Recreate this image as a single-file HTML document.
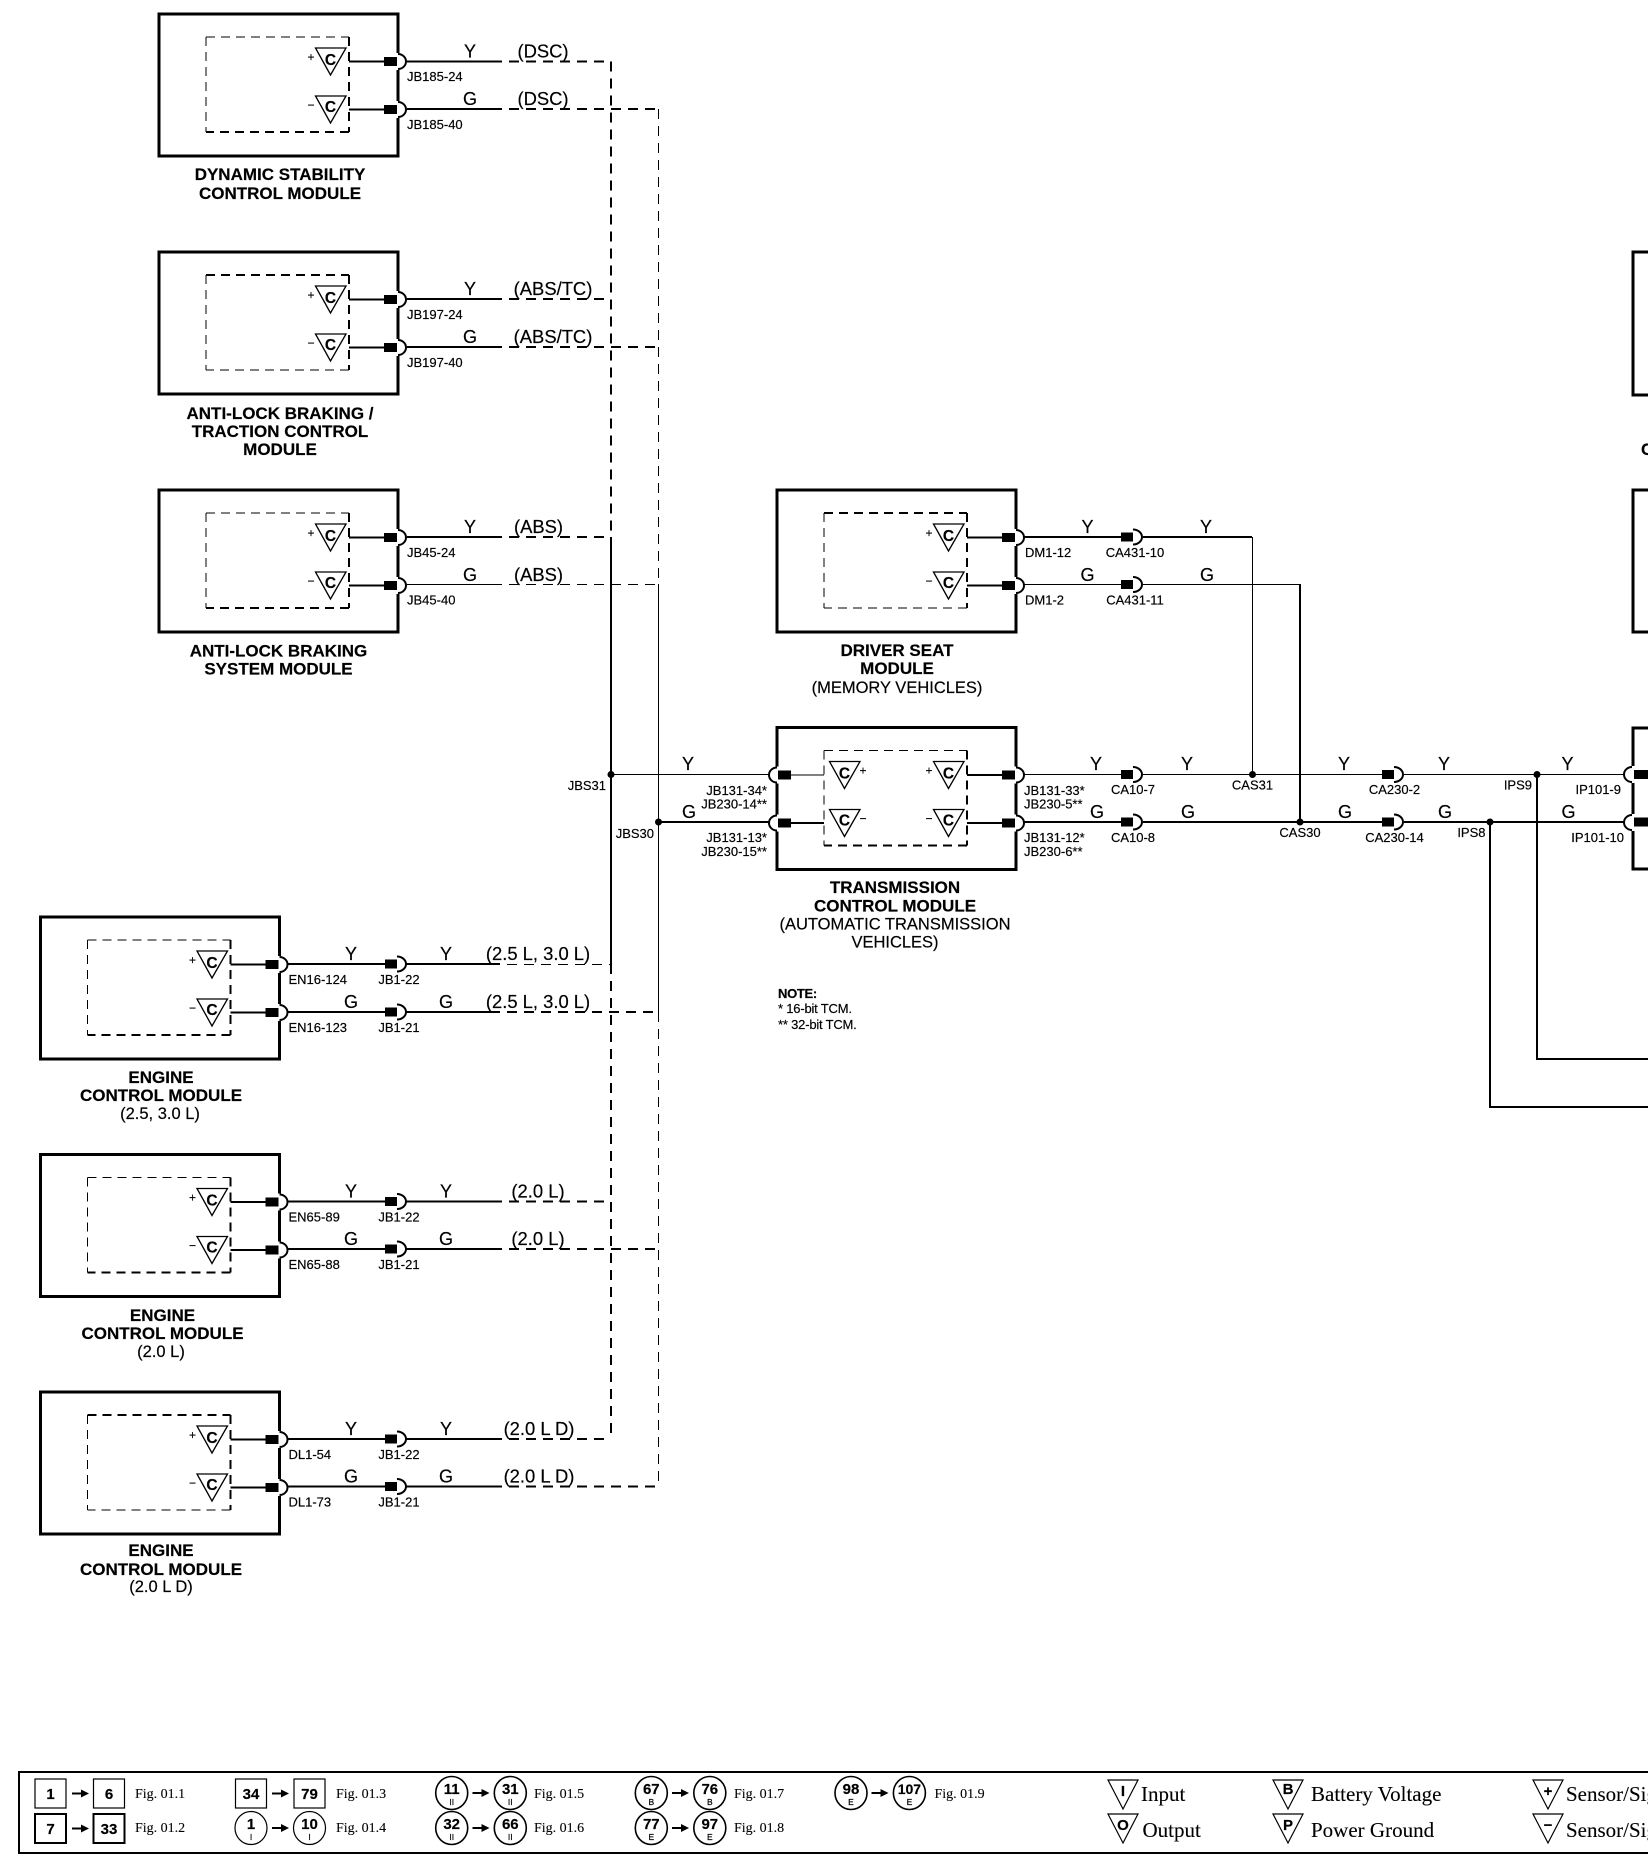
<!DOCTYPE html>
<html><head><meta charset="utf-8"><title>Wiring diagram</title>
<style>
html,body{margin:0;padding:0;background:#fff;width:1648px;height:1874px;overflow:hidden}
svg{display:block}
text{font-family:"Liberation Sans",sans-serif;fill:#000;stroke:#000;stroke-width:.18}
.w{font-size:18px;text-anchor:middle}
.p{font-size:18.4px;text-anchor:middle}
.c{font-size:13px}
.cm{font-size:13px;text-anchor:middle}
.ce{font-size:13px;text-anchor:end}
.t{font-size:17px;font-weight:bold;text-anchor:middle}
.s{font-size:16.5px;text-anchor:middle}
.C{font-size:15.5px;font-weight:bold;text-anchor:middle}
.sg{font-size:12px;text-anchor:middle}
.n{font-size:15px;font-weight:bold;text-anchor:middle}
.l{font-size:8.5px;text-anchor:middle}
.f{font-family:"Liberation Serif",serif;font-size:14px;stroke-width:.1}
.g{font-family:"Liberation Serif",serif;font-size:21px;stroke-width:.1}
.k{font-size:15px;font-weight:bold;text-anchor:middle}
.a{stroke:#000;fill:none;stroke-width:2;shape-rendering:crispEdges}
.b{stroke:#000;fill:none;stroke-width:1;shape-rendering:crispEdges}
.ad{stroke-dasharray:10 7}
.ag{stroke-dasharray:10 7;stroke-dashoffset:10}
.id{stroke-dasharray:9 6}
</style></head><body>
<svg xmlns="http://www.w3.org/2000/svg" width="1648" height="1874" viewBox="0 0 1648 1874">
<defs>
<g id="frame">
<rect x="0" y="0" width="239" height="142" fill="#fff" stroke="#000" stroke-width="3"/>
<rect x="236" y="39" width="6" height="17" fill="#fff"/>
<rect x="236" y="87" width="6" height="17" fill="#fff"/>
<path d="M239 40 A8 7.5 0 0 1 239 55 M239 88 A8 7.5 0 0 1 239 103" fill="#fff" stroke="#000" stroke-width="2"/>
<rect x="225" y="43" width="13" height="9"/>
<rect x="225" y="91" width="13" height="9"/>
<path d="M47 23V118" class="b id"/>
<path d="M190 23V118" class="a id"/>
<path d="M190 47.5H225M190 95.5H225" class="a"/>
<g fill="#fff" stroke="#000" stroke-width="1.3">
<path d="M156.5 34H187L171.5 61Z"/><path d="M156.5 82H187L171.5 109Z"/></g>
</g>
<path id="tn" d="M47 23H190" class="b id"/>
<path id="tk" d="M47 23H190" class="a id"/>
<path id="bn" d="M190 118H47" class="b id"/>
<path id="bk" d="M190 118H47" class="a id"/>
<g id="cn">
<rect x="0" y="-4.5" width="12" height="9"/>
<path d="M12 -7.5A9 7.5 0 0 1 12 7.5" fill="none" stroke="#000" stroke-width="2"/>
</g>
<path id="ar" d="M0 -1H9V-4L17 0L9 4V1H0Z"/>
<path id="tr" d="M0 0H30L15 29Z" fill="#fff" stroke="#000" stroke-width="1.2"/>
</defs>

<!-- bus and wires -->
<path class="a ag" d="M502 61.5H611V537"/>
<path class="a ag" d="M502 109H658"/>
<path class="b ad" d="M658.5 109V584"/>
<path class="a ag" d="M502 299H611"/>
<path class="a ag" d="M502 347H658"/>
<path class="a ag" d="M502 537H611"/>
<path class="b ag" d="M502 584.5H658"/>
<path class="a" d="M611 537V964"/>
<path class="b" d="M658.5 584V1012"/>
<path class="b ag" d="M500 964.5H611"/>
<path class="a ad" d="M611 964V1439"/>
<path class="a ag" d="M502 1439H611"/>
<path class="a ag" d="M500 1012H658"/>
<path class="b ad" d="M658.5 1012V1486"/>
<path class="a ag" d="M502 1201.5H611"/>
<path class="a ag" d="M502 1249H658"/>
<path class="a ag" d="M502 1486.5H658"/>

<path class="a" d="M407 61.5H502M407 109H502M407 299H502M407 347H502M407 537H502"/>
<path class="b" d="M407 584.5H502"/>
<path class="a" d="M287 964H385M406 964H500M287 1012H385M406 1012H500"/>
<path class="a" d="M287 1201.5H385M406 1201.5H502M287 1249H385M406 1249H502"/>
<path class="a" d="M287 1439H385M406 1439H502M287 1486.5H385M406 1486.5H502"/>

<path class="a" d="M1024 537H1121M1143 537H1252"/>
<path class="b" d="M1024 584.5H1121M1143 584.5H1300M1252.5 537V774"/>
<path class="a" d="M1300 584V822"/>
<path class="b" d="M611 774.5H769M1024 774.5H1121M1143 774.5H1382M1404 774.5H1624"/>
<path class="a" d="M658 822H769M1024 822H1121M1143 822H1382M1404 822H1624"/>
<path class="a" d="M1537 774V1059H1648M1490 822V1107H1648"/>
<g><circle cx="611" cy="774.5" r="3.5"/><circle cx="658.5" cy="822" r="3.5"/><circle cx="1252.5" cy="774.5" r="3.5"/><circle cx="1300" cy="822" r="3.5"/><circle cx="1537" cy="774.5" r="3.5"/><circle cx="1490" cy="822" r="3.5"/></g>

<!-- modules -->
<g transform="translate(159,14)"><use href="#frame"/><use href="#tn"/><use href="#bk"/>
<text class="C" x="171.5" y="51">C</text><text class="C" x="171.5" y="98">C</text><text class="sg" x="152" y="47">+</text><text class="sg" x="152" y="95">−</text></g>
<g transform="translate(159,252)"><use href="#frame"/><use href="#tk"/><use href="#bn"/>
<text class="C" x="171.5" y="51">C</text><text class="C" x="171.5" y="98">C</text><text class="sg" x="152" y="47">+</text><text class="sg" x="152" y="95">−</text></g>
<g transform="translate(159,490)"><use href="#frame"/><use href="#tn"/><use href="#bk"/>
<text class="C" x="171.5" y="51">C</text><text class="C" x="171.5" y="98">C</text><text class="sg" x="152" y="47">+</text><text class="sg" x="152" y="95">−</text></g>
<g transform="translate(777,490)"><use href="#frame"/><use href="#tk"/><use href="#bn"/>
<text class="C" x="171.5" y="51">C</text><text class="C" x="171.5" y="98">C</text><text class="sg" x="152" y="47">+</text><text class="sg" x="152" y="95">−</text></g>
<g transform="translate(40.5,917)"><use href="#frame"/><use href="#tn"/><use href="#bk"/>
<text class="C" x="171.5" y="51">C</text><text class="C" x="171.5" y="98">C</text><text class="sg" x="152" y="47">+</text><text class="sg" x="152" y="95">−</text></g>
<g transform="translate(40.5,1154.5)"><use href="#frame"/><use href="#tn"/><use href="#bk"/>
<text class="C" x="171.5" y="51">C</text><text class="C" x="171.5" y="98">C</text><text class="sg" x="152" y="47">+</text><text class="sg" x="152" y="95">−</text></g>
<g transform="translate(40.5,1392)"><use href="#frame"/><use href="#tk"/><use href="#bn"/>
<text class="C" x="171.5" y="51">C</text><text class="C" x="171.5" y="98">C</text><text class="sg" x="152" y="47">+</text><text class="sg" x="152" y="95">−</text></g>

<!-- TCM -->
<g transform="translate(777,727.5)"><use href="#frame"/><use href="#tn"/><use href="#bk"/>
<rect x="-3" y="39" width="6" height="17" fill="#fff"/><rect x="-3" y="87" width="6" height="17" fill="#fff"/>
<path d="M0 40A8 7.5 0 0 0 0 55M0 88A8 7.5 0 0 0 0 103" fill="#fff" stroke="#000" stroke-width="2"/>
<rect x="1" y="43" width="13" height="9"/><rect x="1" y="91" width="13" height="9"/>
<path class="b" d="M14 47.5H47"/><path class="a" d="M14 95.5H47"/>
<g fill="#fff" stroke="#000" stroke-width="1.3"><path d="M52.5 34H83L67.5 61Z"/><path d="M52.5 82H83L67.5 109Z"/></g>
<text class="C" x="171.5" y="51">C</text><text class="C" x="171.5" y="98">C</text><text class="C" x="67.5" y="51">C</text><text class="C" x="67.5" y="98">C</text>
<text class="sg" x="152" y="47">+</text><text class="sg" x="152" y="95">−</text><text class="sg" x="86" y="47">+</text><text class="sg" x="86" y="95">−</text></g>

<!-- right partial modules -->
<path d="M1650 252H1633V395H1650M1650 490H1633V632H1650M1650 728H1633V869H1650" fill="none" stroke="#000" stroke-width="3"/>
<rect x="1630" y="766" width="6" height="17" fill="#fff"/><rect x="1630" y="814" width="6" height="17" fill="#fff"/>
<path d="M1632 767A8 7.5 0 0 0 1632 782M1632 815A8 7.5 0 0 0 1632 830" fill="none" stroke="#000" stroke-width="2"/>
<rect x="1634" y="770" width="14" height="9"/><rect x="1634" y="817.5" width="14" height="9"/>
<text class="t" x="1641" y="455" style="text-anchor:start">C</text>

<!-- inline connectors -->
<use href="#cn" x="385" y="964"/><use href="#cn" x="385" y="1012"/>
<use href="#cn" x="385" y="1201.5"/><use href="#cn" x="385" y="1249"/>
<use href="#cn" x="385" y="1439"/><use href="#cn" x="385" y="1486.5"/>
<use href="#cn" x="1121" y="537"/><use href="#cn" x="1121" y="584.5"/>
<use href="#cn" x="1121" y="774.5"/><use href="#cn" x="1121" y="822"/>
<use href="#cn" x="1382" y="774.5"/><use href="#cn" x="1382" y="822"/>

<!-- wire labels -->
<text class="w" x="470" y="57.5">Y</text><text class="w" x="470" y="105">G</text>
<text class="p" x="543" y="57.5">(DSC)</text><text class="p" x="543" y="105">(DSC)</text>
<text class="w" x="470" y="295">Y</text><text class="w" x="470" y="343">G</text>
<text class="p" x="553" y="295">(ABS/TC)</text><text class="p" x="553" y="343">(ABS/TC)</text>
<text class="w" x="470" y="533">Y</text><text class="w" x="470" y="581">G</text>
<text class="p" x="538.5" y="533">(ABS)</text><text class="p" x="538.5" y="581">(ABS)</text>
<text class="w" x="351" y="960">Y</text><text class="w" x="446" y="960">Y</text>
<text class="w" x="351" y="1008">G</text><text class="w" x="446" y="1008">G</text>
<text class="p" x="538" y="960">(2.5 L, 3.0 L)</text><text class="p" x="538" y="1008">(2.5 L, 3.0 L)</text>
<text class="w" x="351" y="1197.5">Y</text><text class="w" x="446" y="1197.5">Y</text>
<text class="w" x="351" y="1245">G</text><text class="w" x="446" y="1245">G</text>
<text class="p" x="538" y="1197.5">(2.0 L)</text><text class="p" x="538" y="1245">(2.0 L)</text>
<text class="w" x="351" y="1435">Y</text><text class="w" x="446" y="1435">Y</text>
<text class="w" x="351" y="1482.5">G</text><text class="w" x="446" y="1482.5">G</text>
<text class="p" x="539" y="1435">(2.0 L D)</text><text class="p" x="539" y="1482.5">(2.0 L D)</text>
<text class="w" x="1087.5" y="533">Y</text><text class="w" x="1087.5" y="581">G</text>
<text class="w" x="1206" y="533">Y</text><text class="w" x="1207" y="581">G</text>
<text class="w" x="688" y="770">Y</text><text class="w" x="689" y="818">G</text>
<text class="w" x="1096" y="770">Y</text><text class="w" x="1097" y="818">G</text>
<text class="w" x="1187" y="770">Y</text><text class="w" x="1188" y="818">G</text>
<text class="w" x="1344" y="770">Y</text><text class="w" x="1345" y="818">G</text>
<text class="w" x="1444" y="770">Y</text><text class="w" x="1445" y="818">G</text>
<text class="w" x="1567.5" y="770">Y</text><text class="w" x="1568.5" y="818">G</text>

<!-- connector labels -->
<text class="c" x="407" y="81">JB185-24</text><text class="c" x="407" y="129">JB185-40</text>
<text class="c" x="407" y="319">JB197-24</text><text class="c" x="407" y="367">JB197-40</text>
<text class="c" x="407" y="557">JB45-24</text><text class="c" x="407" y="604.5">JB45-40</text>
<text class="c" x="1025" y="557">DM1-12</text><text class="c" x="1025" y="604.5">DM1-2</text>
<text class="cm" x="1135" y="557">CA431-10</text><text class="cm" x="1135" y="604.5">CA431-11</text>
<text class="c" x="288.5" y="984">EN16-124</text><text class="c" x="288.5" y="1032">EN16-123</text>
<text class="cm" x="399" y="984">JB1-22</text><text class="cm" x="399" y="1032">JB1-21</text>
<text class="c" x="288.5" y="1221.5">EN65-89</text><text class="c" x="288.5" y="1269">EN65-88</text>
<text class="cm" x="399" y="1221.5">JB1-22</text><text class="cm" x="399" y="1269">JB1-21</text>
<text class="c" x="288.5" y="1459">DL1-54</text><text class="c" x="288.5" y="1506.5">DL1-73</text>
<text class="cm" x="399" y="1459">JB1-22</text><text class="cm" x="399" y="1506.5">JB1-21</text>
<text class="ce" x="767" y="795">JB131-34*</text><text class="ce" x="767" y="808.5">JB230-14**</text>
<text class="ce" x="767" y="842">JB131-13*</text><text class="ce" x="767" y="856">JB230-15**</text>
<text class="c" x="1024" y="795">JB131-33*</text><text class="c" x="1024" y="808.5">JB230-5**</text>
<text class="c" x="1024" y="842">JB131-12*</text><text class="c" x="1024" y="856">JB230-6**</text>
<text class="ce" x="606" y="790">JBS31</text><text class="ce" x="654" y="838">JBS30</text>
<text class="cm" x="1133" y="794">CA10-7</text><text class="cm" x="1133" y="842">CA10-8</text>
<text class="cm" x="1252.5" y="789.5">CAS31</text><text class="cm" x="1300" y="837">CAS30</text>
<text class="cm" x="1394.5" y="794">CA230-2</text><text class="cm" x="1394.5" y="842">CA230-14</text>
<text class="ce" x="1532" y="789.5">IPS9</text><text class="ce" x="1485.5" y="837">IPS8</text>
<text class="ce" x="1621" y="794">IP101-9</text><text class="ce" x="1624" y="842">IP101-10</text>

<!-- module titles -->
<text class="t" x="280" y="180">DYNAMIC STABILITY</text><text class="t" x="280" y="199">CONTROL MODULE</text>
<text class="t" x="280" y="419">ANTI-LOCK BRAKING /</text><text class="t" x="280" y="437">TRACTION CONTROL</text><text class="t" x="280" y="455">MODULE</text>
<text class="t" x="278.5" y="656.5">ANTI-LOCK BRAKING</text><text class="t" x="278.5" y="674.5">SYSTEM MODULE</text>
<text class="t" x="897" y="656">DRIVER SEAT</text><text class="t" x="897" y="674">MODULE</text><text class="s" x="897" y="693">(MEMORY VEHICLES)</text>
<text class="t" x="895" y="893">TRANSMISSION</text><text class="t" x="895" y="911.5">CONTROL MODULE</text><text class="s" x="895" y="929.5">(AUTOMATIC TRANSMISSION</text><text class="s" x="895" y="947.5">VEHICLES)</text>
<text class="t" x="161" y="1083">ENGINE</text><text class="t" x="161" y="1101">CONTROL MODULE</text><text class="s" x="160" y="1119">(2.5, 3.0 L)</text>
<text class="t" x="162.5" y="1321">ENGINE</text><text class="t" x="162.5" y="1339">CONTROL MODULE</text><text class="s" x="161" y="1357">(2.0 L)</text>
<text class="t" x="161" y="1556">ENGINE</text><text class="t" x="161" y="1575">CONTROL MODULE</text><text class="s" x="161" y="1592">(2.0 L D)</text>

<text x="778" y="998" style="font-size:13px;font-weight:bold;letter-spacing:-.3px">NOTE:</text>
<text x="778" y="1013" style="font-size:13px;letter-spacing:-.2px">* 16-bit TCM.</text>
<text x="778" y="1029" style="font-size:13px;letter-spacing:-.2px">** 32-bit TCM.</text>

<!-- legend -->
<path d="M1650 1772H19V1853H1650" fill="none" stroke="#000" stroke-width="2"/>
<g fill="#fff" stroke="#000" stroke-width="1.2">
<rect x="35" y="1779" width="31" height="29"/><rect x="93.5" y="1779" width="31" height="29"/>
<rect x="235.5" y="1779" width="31" height="29"/><rect x="294" y="1779" width="31" height="29"/>
<rect x="35" y="1814" width="31" height="29" stroke-width="2"/><rect x="93.5" y="1814" width="31" height="29" stroke-width="2"/>
</g>
<text class="n" x="50.5" y="1799">1</text><text class="n" x="109" y="1799">6</text>
<text class="n" x="251" y="1799">34</text><text class="n" x="309.5" y="1799">79</text>
<text class="n" x="50.5" y="1834">7</text><text class="n" x="109" y="1834">33</text>
<use href="#ar" x="72" y="1793.5"/><use href="#ar" x="72" y="1828.5"/><use href="#ar" x="272" y="1793.5"/>
<g fill="#fff" stroke="#000" stroke-width="1.6">
<ellipse cx="251" cy="1828" rx="16" ry="16.5" stroke-width="1.2"/><ellipse cx="309.5" cy="1828" rx="16" ry="16.5" stroke-width="1.2"/>
<ellipse cx="451.7" cy="1793" rx="16" ry="16.5"/><ellipse cx="510.3" cy="1793" rx="16" ry="16.5"/>
<ellipse cx="451.7" cy="1828" rx="16" ry="16.5"/><ellipse cx="510.3" cy="1828" rx="16" ry="16.5"/>
<ellipse cx="651.3" cy="1793" rx="16" ry="16.5"/><ellipse cx="709.8" cy="1793" rx="16" ry="16.5"/>
<ellipse cx="651.3" cy="1828" rx="16" ry="16.5"/><ellipse cx="709.8" cy="1828" rx="16" ry="16.5"/>
<ellipse cx="851" cy="1793" rx="16" ry="16.5"/><ellipse cx="909.4" cy="1793" rx="16" ry="16.5"/>
</g>
<use href="#ar" x="272" y="1828"/><use href="#ar" x="472.5" y="1793"/><use href="#ar" x="472.5" y="1828"/>
<use href="#ar" x="672" y="1793"/><use href="#ar" x="672" y="1828"/><use href="#ar" x="871.5" y="1793"/>
<text class="n" x="251" y="1829">1</text><text class="l" x="251" y="1840">I</text>
<text class="n" x="309.5" y="1829">10</text><text class="l" x="309.5" y="1840">I</text>
<text class="n" x="451.7" y="1794">11</text><text class="l" x="451.7" y="1805">II</text>
<text class="n" x="510.3" y="1794">31</text><text class="l" x="510.3" y="1805">II</text>
<text class="n" x="451.7" y="1829">32</text><text class="l" x="451.7" y="1840">II</text>
<text class="n" x="510.3" y="1829">66</text><text class="l" x="510.3" y="1840">II</text>
<text class="n" x="651.3" y="1794">67</text><text class="l" x="651.3" y="1805">B</text>
<text class="n" x="709.8" y="1794">76</text><text class="l" x="709.8" y="1805">B</text>
<text class="n" x="651.3" y="1829">77</text><text class="l" x="651.3" y="1840">E</text>
<text class="n" x="709.8" y="1829">97</text><text class="l" x="709.8" y="1840">E</text>
<text class="n" x="851" y="1794">98</text><text class="l" x="851" y="1805">E</text>
<text class="n" x="909.4" y="1794" style="font-size:14px">107</text><text class="l" x="909.4" y="1805">E</text>
<text class="f" x="135" y="1798">Fig. 01.1</text><text class="f" x="135" y="1832">Fig. 01.2</text>
<text class="f" x="336" y="1798">Fig. 01.3</text><text class="f" x="336" y="1832">Fig. 01.4</text>
<text class="f" x="534" y="1798">Fig. 01.5</text><text class="f" x="534" y="1832">Fig. 01.6</text>
<text class="f" x="734" y="1798">Fig. 01.7</text><text class="f" x="734" y="1832">Fig. 01.8</text>
<text class="f" x="934.5" y="1798">Fig. 01.9</text>

<use href="#tr" x="1108" y="1780"/><use href="#tr" x="1108" y="1814"/>
<use href="#tr" x="1273" y="1780"/><use href="#tr" x="1273" y="1814"/>
<use href="#tr" x="1533" y="1780"/><use href="#tr" x="1533" y="1814"/>
<text class="k" x="1123" y="1796">I</text><text class="k" x="1123" y="1830">O</text>
<text class="k" x="1288" y="1794">B</text><text class="k" x="1288" y="1830">P</text>
<text class="k" x="1548" y="1796">+</text><text class="k" x="1548" y="1830">−</text>
<text class="g" x="1141" y="1801">Input</text><text class="g" x="1142.5" y="1837">Output</text>
<text class="g" x="1311" y="1801">Battery Voltage</text><text class="g" x="1311" y="1837">Power Ground</text>
<text class="g" x="1566" y="1801">Sensor/Signal +</text><text class="g" x="1566" y="1837">Sensor/Signal −</text>
</svg>
</body></html>
